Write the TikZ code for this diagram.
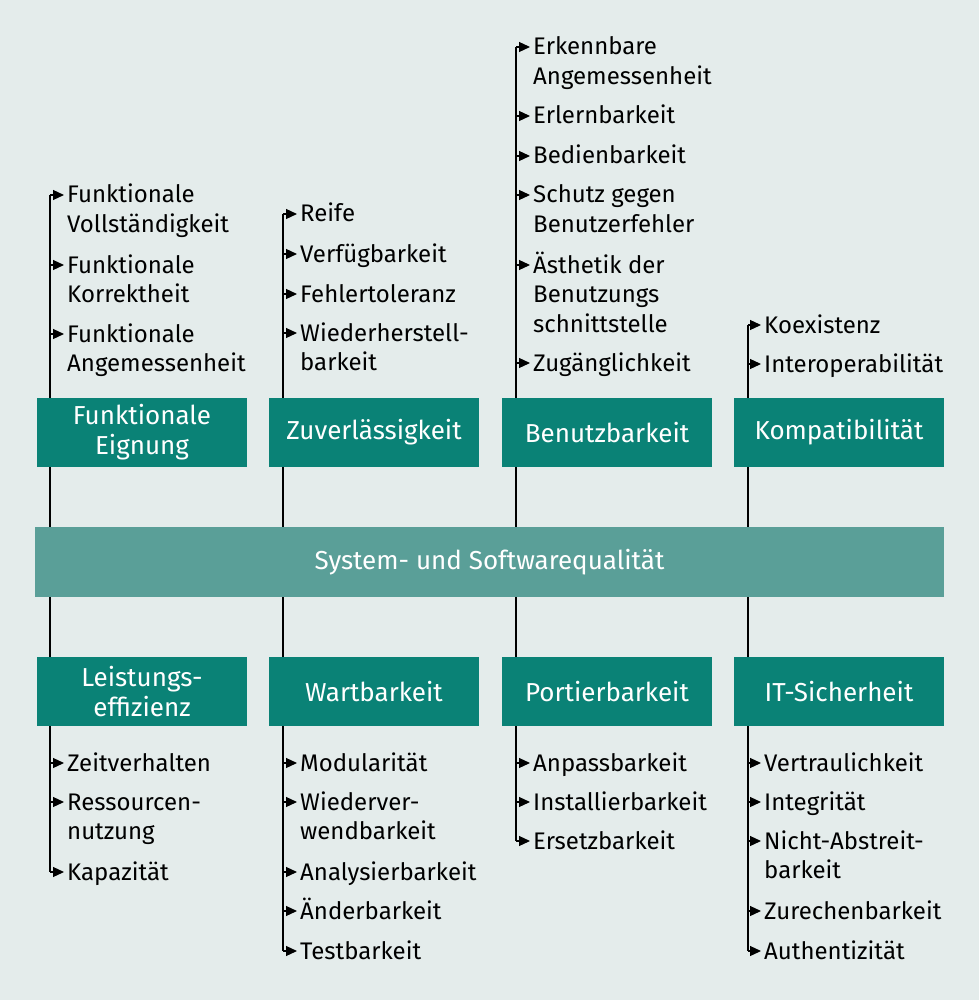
\documentclass[tikz,border=0pt]{standalone}
\usepackage{fontspec}
\setmainfont{Fira Sans}
\usetikzlibrary{arrows.meta}

\definecolor{grund}{HTML}{E4ECEB}
\definecolor{balken}{HTML}{5A9F98}
\definecolor{kasten}{HTML}{0A8276}

% mehrzeilig, Grundlinie der ersten Zeile
\newcommand\zeilen[1]{\begin{tabular}[t]{@{}l@{}}#1\end{tabular}}

\tikzset{
  merkmal/.style={fill=kasten, text=white, minimum width=210pt, minimum height=69pt,
    inner sep=0pt, align=center, font=\fontsize{26}{30}\selectfont},
  teil/.style={anchor=base west, inner sep=0pt,
    font=\fontsize{24}{29.5}\selectfont},
  stamm/.style={line width=1.2pt},
  pfeil/.style={-{Triangle[length=11pt,width=10pt]}, line width=1.2pt, shorten >=3pt},
}

\begin{document}
\begin{tikzpicture}[x=1pt,y=-1pt]
    \fill[grund] (0,0) rectangle (979,1000);
    \coordinate (s1) at (50,0);
    \coordinate (s2) at (283,0);
    \coordinate (s3) at (516,0);
    \coordinate (s4) at (748,0);

    % Teilmerkmale
    \node[teil] (fv) at (67,203) {\zeilen{Funktionale\\Vollständigkeit}};
    \node[teil] (fk) at (67,273) {\zeilen{Funktionale\\Korrektheit}};
    \node[teil] (fa) at (67,342) {\zeilen{Funktionale\\Angemessenheit}};
    \node[teil] (zv) at (67,771) {Zeitverhalten};
    \node[teil] (rn) at (67,810) {\zeilen{Ressourcen-\\nutzung}};
    \node[teil] (ka) at (67,880) {Kapazität};

    \node[teil] (re) at (300,222) {Reife};
    \node[teil] (vf) at (300,262) {Verfügbarkeit};
    \node[teil] (ft) at (300,302) {Fehlertoleranz};
    \node[teil] (wh) at (300,341) {\zeilen{Wiederherstell-\\barkeit}};
    \node[teil] (mo) at (300,771) {Modularität};
    \node[teil] (wv) at (300,810) {\zeilen{Wiederver-\\wendbarkeit}};
    \node[teil] (an) at (300,880) {Analysierbarkeit};
    \node[teil] (ad) at (300,919) {Änderbarkeit};
    \node[teil] (te) at (300,959) {Testbarkeit};

    \node[teil] (ek) at (533,55) {\zeilen{Erkennbare\\Angemessenheit}};
    \node[teil] (el) at (533,124) {Erlernbarkeit};
    \node[teil] (bd) at (533,164) {Bedienbarkeit};
    \node[teil] (sg) at (533,203) {\zeilen{Schutz gegen\\Benutzerfehler}};
    \node[teil] (ae) at (533,273) {\zeilen{Ästhetik der\\Benutzungs\\schnittstelle}};
    \node[teil] (zg) at (533,371) {Zugänglichkeit};
    \node[teil] (ap) at (533,771) {Anpassbarkeit};
    \node[teil] (ib) at (533,810) {Installierbarkeit};
    \node[teil] (eb) at (533,849) {Ersetzbarkeit};

    \node[teil] (kx) at (764,333) {Koexistenz};
    \node[teil] (io) at (764,372) {Interoperabilität};
    \node[teil] (vt) at (764,771) {Vertraulichkeit};
    \node[teil] (ig) at (764,810) {Integrität};
    \node[teil] (na) at (764,849) {\zeilen{Nicht-Abstreit-\\barkeit}};
    \node[teil] (zr) at (764,919) {Zurechenbarkeit};
    \node[teil] (au) at (764,959) {Authentizität};

    % Linien
    \draw[stamm] ([yshift=8pt]fv.base west -| s1) -- ([yshift=8pt]ka.base west -| s1);
    \draw[stamm] ([yshift=8pt]re.base west -| s2) -- ([yshift=8pt]te.base west -| s2);
    \draw[stamm] ([yshift=8pt]ek.base west -| s3) -- ([yshift=8pt]eb.base west -| s3);
    \draw[stamm] ([yshift=8pt]kx.base west -| s4) -- ([yshift=8pt]au.base west -| s4);
    \foreach \n in {fv,fk,fa,zv,rn,ka}
        \draw[pfeil] ([yshift=8pt]\n.base west -| s1) -- ([yshift=8pt]\n.base west);
    \foreach \n in {re,vf,ft,wh,mo,wv,an,ad,te}
        \draw[pfeil] ([yshift=8pt]\n.base west -| s2) -- ([yshift=8pt]\n.base west);
    \foreach \n in {ek,el,bd,sg,ae,zg,ap,ib,eb}
        \draw[pfeil] ([yshift=8pt]\n.base west -| s3) -- ([yshift=8pt]\n.base west);
    \foreach \n in {kx,io,vt,ig,na,zr,au}
        \draw[pfeil] ([yshift=8pt]\n.base west -| s4) -- ([yshift=8pt]\n.base west);

    % Qualitaet und Merkmale
    \node[merkmal, fill=balken, minimum width=909pt, minimum height=70pt] (sq) at (489.5,562) {System- und Softwarequalität};
    \node[merkmal] (fe) at (142,432.5) {Funktionale\\Eignung};
    \node[merkmal] (zu) at (374,432.5) {Zuverlässigkeit};
    \node[merkmal] (bb) at (607,432.5) {Benutzbarkeit};
    \node[merkmal] (kp) at (839,432.5) {Kompatibilität};
    \node[merkmal] (le) at (142,691.5) {Leistungs-\\effizienz};
    \node[merkmal] (wb) at (374,691.5) {Wartbarkeit};
    \node[merkmal] (pb) at (607,691.5) {Portierbarkeit};
    \node[merkmal] (it) at (839,691.5) {IT-Sicherheit};
\end{tikzpicture}
\end{document}
